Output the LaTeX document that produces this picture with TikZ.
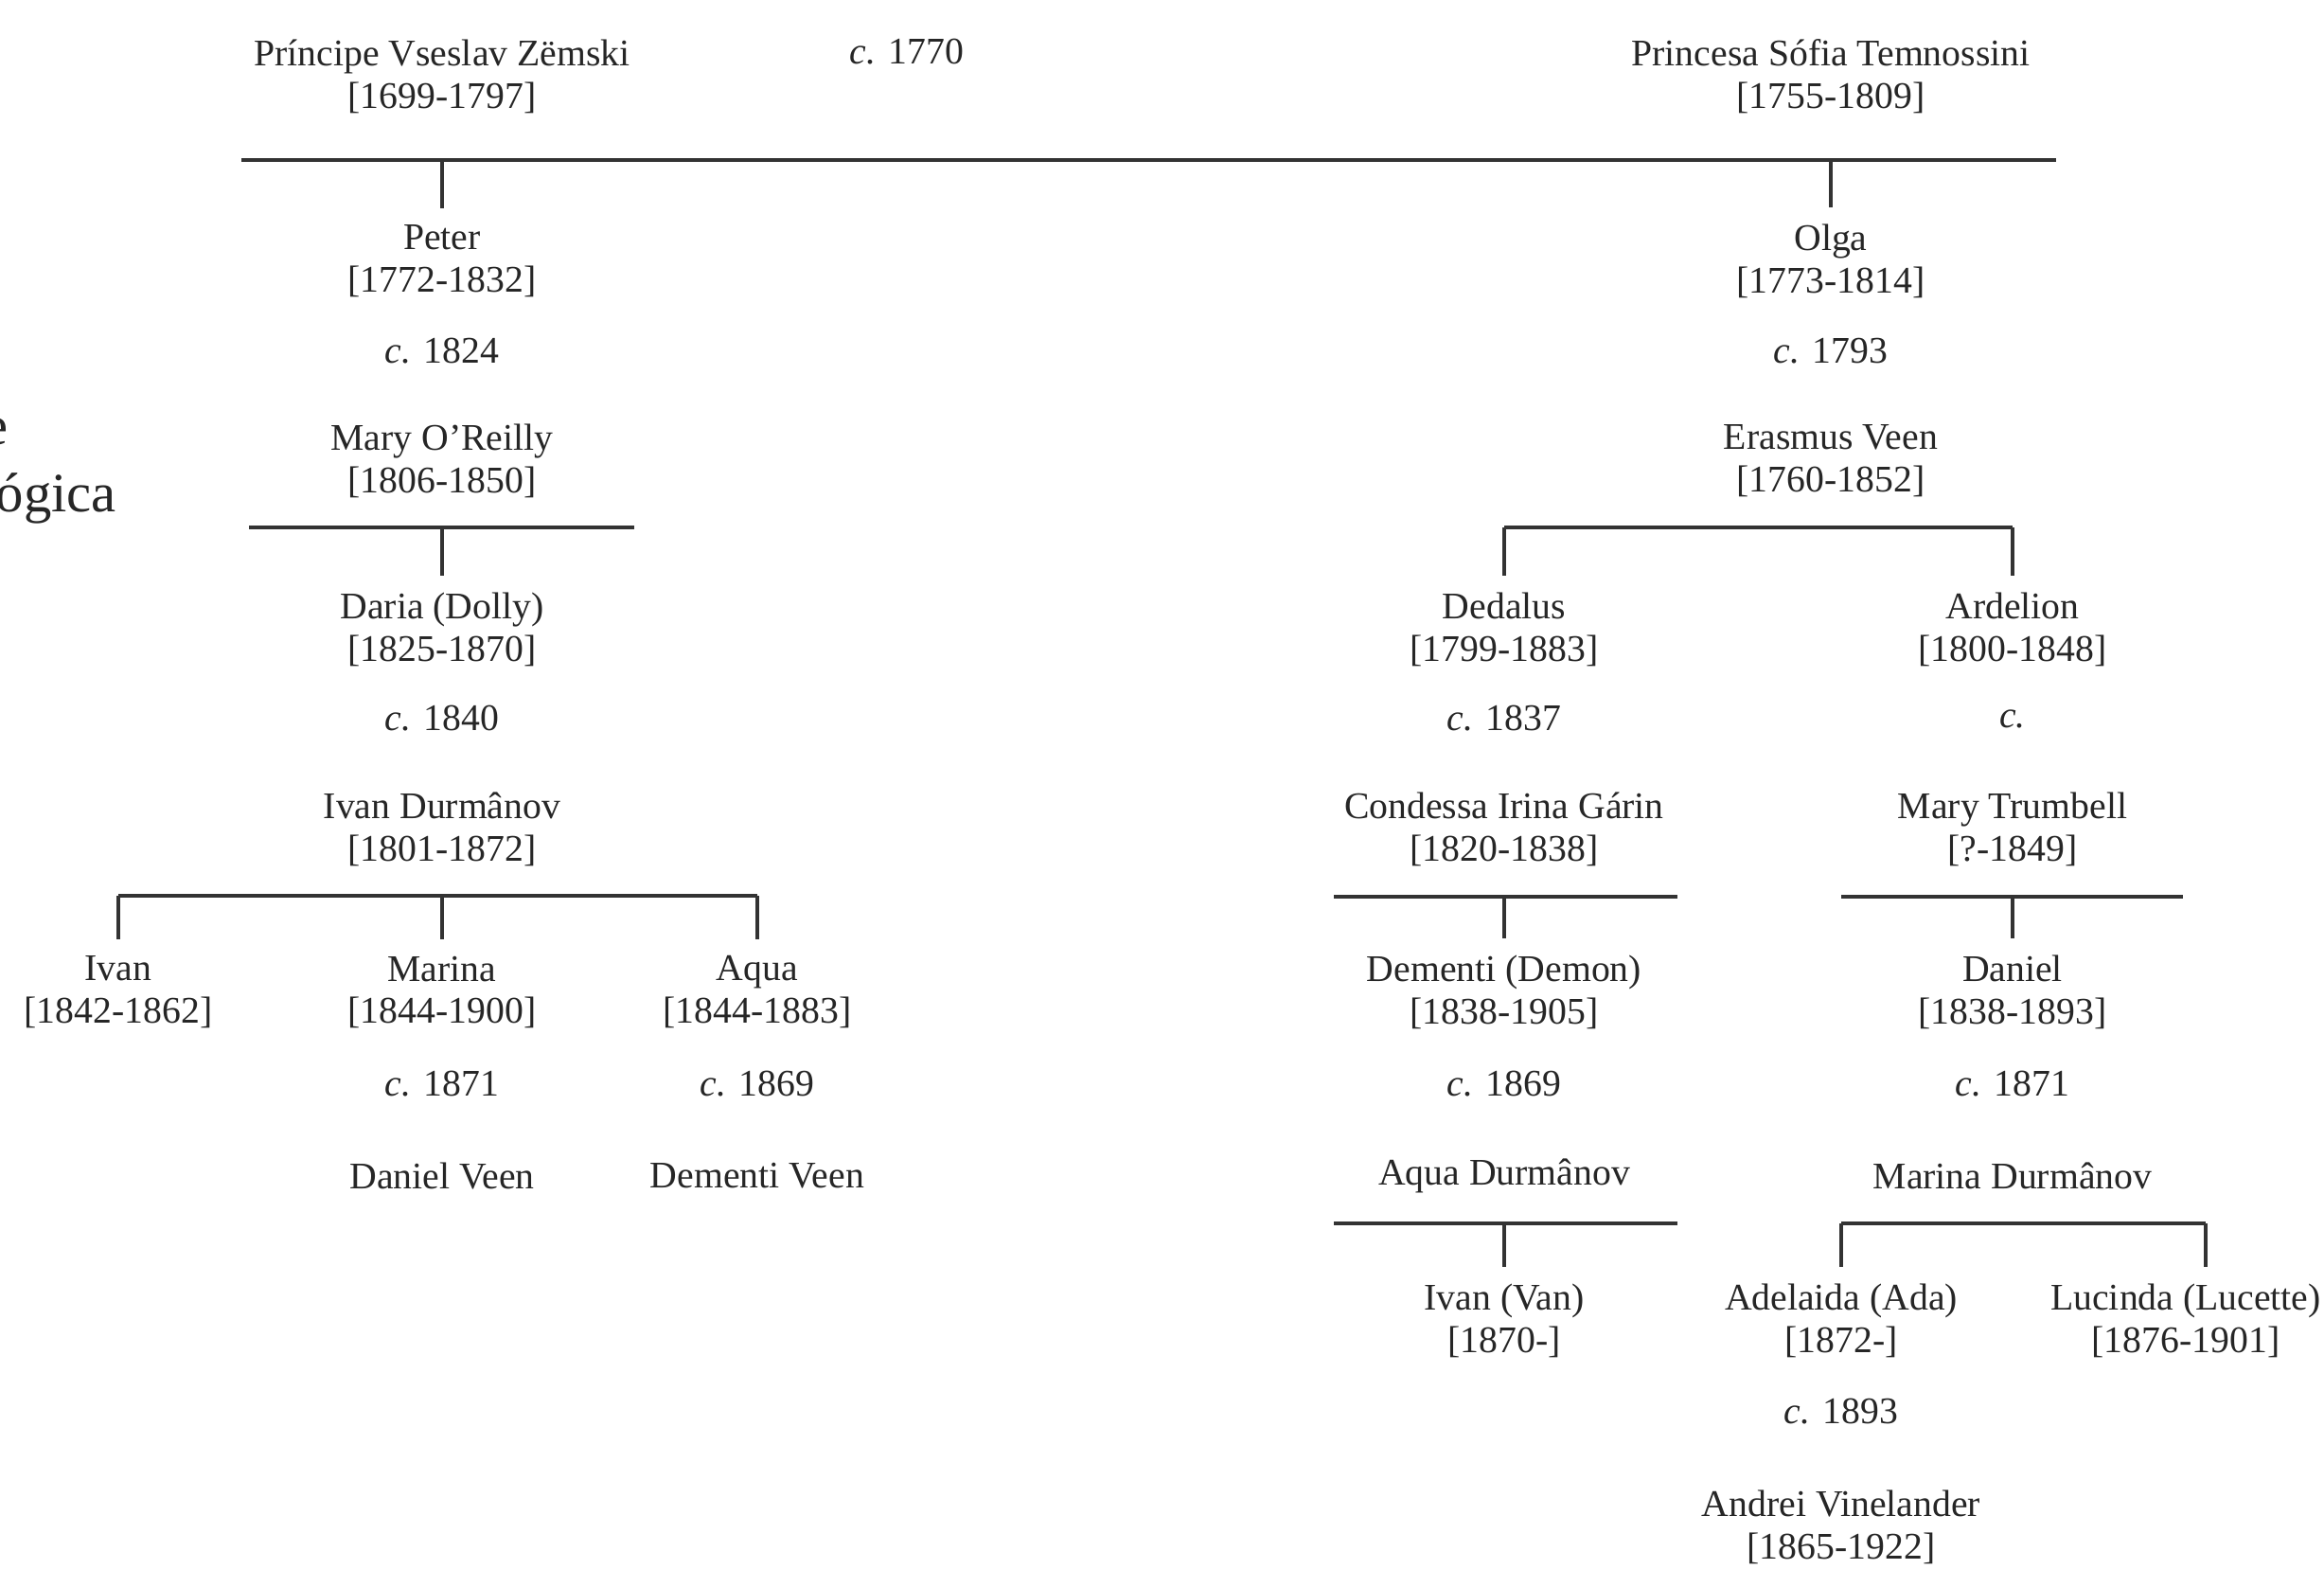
\documentclass[tikz,border=0pt]{standalone}
\usepackage{fontspec}
\setmainfont{Liberation Serif}
\begin{document}
\begin{tikzpicture}[
  person/.style={align=center, inner sep=0pt, font=\fontsize{11.3}{12.8}\selectfont, text=black!85},
  mdate/.style={inner sep=0pt, font=\fontsize{11.3}{12.8}\selectfont, text=black!85},
  titletext/.style={inner sep=0pt, anchor=base west, font=\fontsize{16.7}{20}\selectfont, text=black!85},
  bar/.style={line width=1.3pt, draw=black!80},
  stem/.style={line width=0.9pt, draw=black!80, shorten >=0.17cm},
]
\clip (0,0) rectangle (24.55,-16.57);
\fill[white] (0,0) rectangle (24.55,-16.57);

% title (cut by the left edge)
\node[titletext] (t1) at (-1.58,-4.70) {Árvore};
\node[titletext] (t2) at (-1.58,-5.40) {genealógica};

% generation 0
\node[person] (vs) at (4.67,-0.81) {Príncipe Vseslav Zëmski\\{}[1699-1797]};
\node[mdate] (m0) at (9.58,-0.55) {\textit{c.} 1770};
\node[person] (sofia) at (19.34,-0.81) {Princesa Sófia Temnossini\\{}[1755-1809]};
\coordinate (b0l) at (2.55,-1.69);
\coordinate (b0r) at (21.72,-1.69);

% left branch
\node[person] (peter) at (4.67,-2.76) {Peter\\{}[1772-1832]};
\node[mdate] (m1) at (4.67,-3.71) {\textit{c.} 1824};
\node[person] (mary) at (4.67,-4.87) {Mary O'Reilly\\{}[1806-1850]};
\coordinate (b1l) at (2.63,-5.57);
\coordinate (b1r) at (6.70,-5.57);
\node[person] (daria) at (4.67,-6.65) {Daria (Dolly)\\{}[1825-1870]};
\node[mdate] (m2) at (4.67,-7.59) {\textit{c.} 1840};
\node[person] (ivand) at (4.67,-8.76) {Ivan Durmânov\\{}[1801-1872]};
\coordinate (b2l) at (1.25,-9.46);
\coordinate (b2r) at (8.00,-9.46);
\node[person] (ivan) at (1.25,-10.48) {Ivan\\{}[1842-1862]};
\node[person] (marina) at (4.67,-10.48) {Marina\\{}[1844-1900]};
\node[person] (aqua) at (8.00,-10.48) {Aqua\\{}[1844-1883]};
\node[mdate] (m3) at (4.67,-11.45) {\textit{c.} 1871};
\node[mdate] (m4) at (8.00,-11.45) {\textit{c.} 1869};
\node[person] (danielv) at (4.67,-12.42) {Daniel Veen};
\node[person] (dementiv) at (8.00,-12.42) {Dementi Veen};

% right branch
\node[person] (olga) at (19.34,-2.76) {Olga\\{}[1773-1814]};
\node[mdate] (m5) at (19.34,-3.71) {\textit{c.} 1793};
\node[person] (erasmus) at (19.34,-4.87) {Erasmus Veen\\{}[1760-1852]};
\coordinate (b3l) at (15.89,-5.57);
\coordinate (b3r) at (21.26,-5.57);
\node[person] (dedalus) at (15.89,-6.65) {Dedalus\\{}[1799-1883]};
\node[mdate] (m6) at (15.89,-7.59) {\textit{c.} 1837};
\node[person] (irina) at (15.89,-8.76) {Condessa Irina Gárin\\{}[1820-1838]};
\node[person] (ardelion) at (21.26,-6.65) {Ardelion\\{}[1800-1848]};
\node[mdate] (m7) at (21.26,-7.59) {\textit{c.}};
\node[person] (trumbell) at (21.26,-8.76) {Mary Trumbell\\{}[?-1849]};
\coordinate (b4l) at (14.09,-9.47);
\coordinate (b4r) at (17.72,-9.47);
\coordinate (b5l) at (19.45,-9.47);
\coordinate (b5r) at (23.06,-9.47);
\node[person] (demon) at (15.89,-10.48) {Dementi (Demon)\\{}[1838-1905]};
\node[mdate] (m8) at (15.89,-11.45) {\textit{c.} 1869};
\node[person] (aquad) at (15.89,-12.42) {Aqua Durmânov};
\node[person] (daniel) at (21.26,-10.48) {Daniel\\{}[1838-1893]};
\node[mdate] (m9) at (21.26,-11.45) {\textit{c.} 1871};
\node[person] (marinad) at (21.26,-12.42) {Marina Durmânov};
\coordinate (b6l) at (14.09,-12.92);
\coordinate (b6r) at (17.72,-12.92);
\coordinate (b7l) at (19.45,-12.92);
\coordinate (b7r) at (23.30,-12.92);
\node[person] (van) at (15.89,-13.95) {Ivan (Van)\\{}[1870-]};
\node[person] (ada) at (19.45,-13.95) {Adelaida (Ada)\\{}[1872-]};
\node[person] (lucette) at (23.09,-13.95) {Lucinda (Lucette)\\{}[1876-1901]};
\node[mdate] (m10) at (19.45,-14.91) {\textit{c.} 1893};
\node[person] (andrei) at (19.45,-16.13) {Andrei Vinelander\\{}[1865-1922]};

% bars
\draw[bar] (b0l) -- (b0r);
\draw[bar] (b1l) -- (b1r);
\draw[bar] (b2l) -- (b2r);
\draw[bar] (b3l) -- (b3r);
\draw[bar] (b4l) -- (b4r);
\draw[bar] (b5l) -- (b5r);
\draw[bar] (b6l) -- (b6r);
\draw[bar] (b7l) -- (b7r);

% stems
\draw[stem] (peter |- b0l) -- (peter.north);
\draw[stem] (olga |- b0l) -- (olga.north);
\draw[stem] (daria |- b1l) -- (daria.north);
\draw[stem] (b2l) -- (b2l |- ivan.north);
\draw[stem] (marina |- b2l) -- (marina.north);
\draw[stem] (b2r) -- (b2r |- aqua.north);
\draw[stem] (b3l) -- (b3l |- dedalus.north);
\draw[stem] (b3r) -- (b3r |- ardelion.north);
\draw[stem] (demon |- b4l) -- (demon.north);
\draw[stem] (daniel |- b5l) -- (daniel.north);
\draw[stem] (van |- b6l) -- (van.north);
\draw[stem] (b7l) -- (b7l |- ada.north);
\draw[stem] (b7r) -- (b7r |- lucette.north);
\end{tikzpicture}
\end{document}
